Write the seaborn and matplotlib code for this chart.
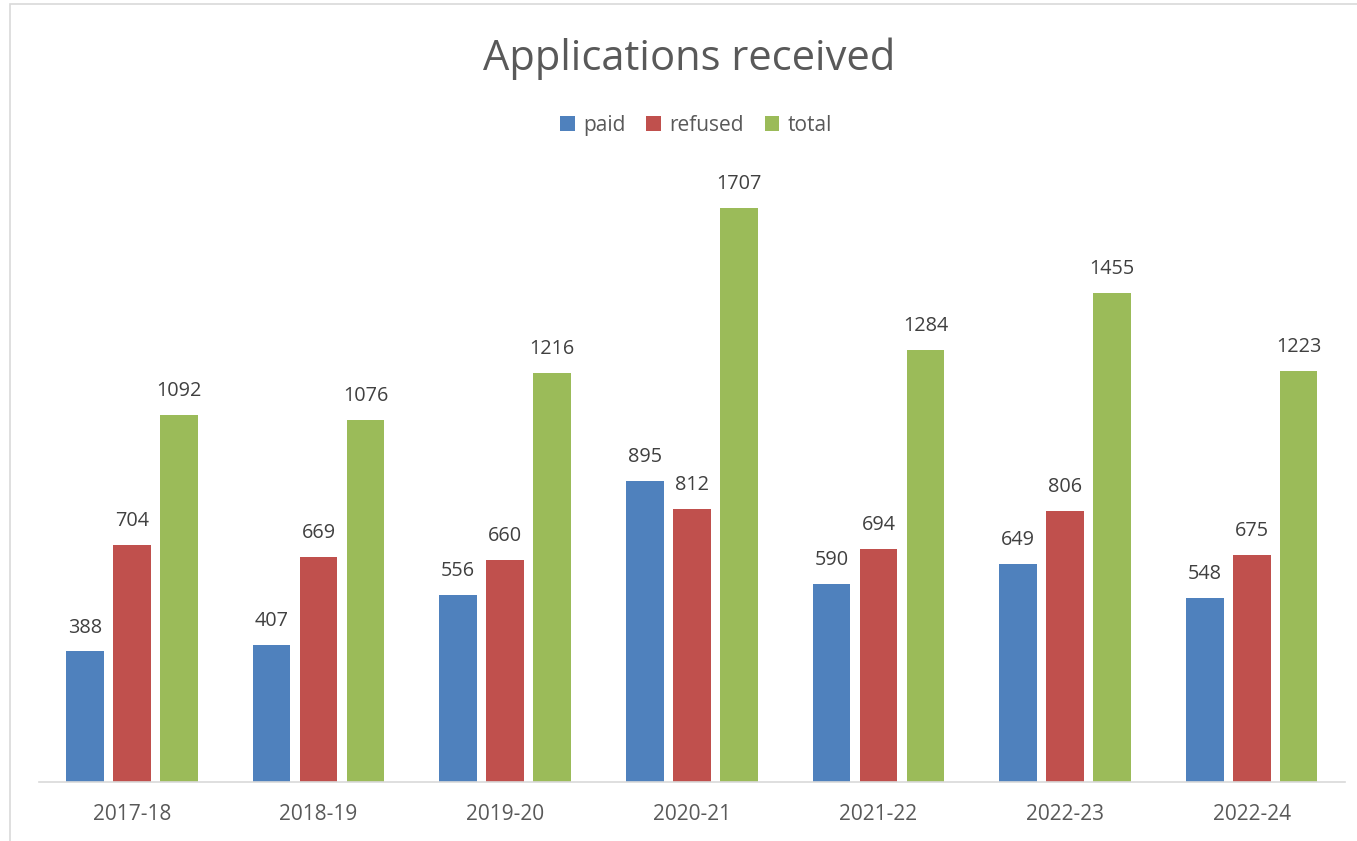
import matplotlib
matplotlib.use("Agg")
import matplotlib.pyplot as plt
import seaborn as sns
import pandas as pd
from matplotlib.patches import Rectangle

years = ["2017-18", "2018-19", "2019-20", "2020-21", "2021-22", "2022-23", "2022-24"]
paid = [388, 407, 556, 895, 590, 649, 548]
refused = [704, 669, 660, 812, 694, 806, 675]
total = [1092, 1076, 1216, 1707, 1284, 1455, 1223]
series = ["paid", "refused", "total"]
colors = ["#4f81bd", "#c0504d", "#9bbb59"]

df = pd.DataFrame({
    "year": years * 3,
    "series": ["paid"] * 7 + ["refused"] * 7 + ["total"] * 7,
    "value": paid + refused + total,
})

sns.set_theme(style="white")
plt.rcParams["font.family"] = ["Open Sans", "DejaVu Sans"]

fig = plt.figure(figsize=(13.57, 8.41), dpi=100)
ax = fig.add_axes([0.0285, 0.0702, 0.9627, 0.7198])
sns.barplot(data=df, x="year", y="value", hue="series", hue_order=series,
            palette=colors, width=0.755, gap=0.2, ax=ax, legend=True,
            errorbar=None, saturation=1, edgecolor="none", linewidth=0)

for cont in ax.containers:
    ax.bar_label(cont, padding=10, fontsize=14.3, color="#404040")

ax.set_ylim(0, 1800)
ax.set_xlim(-0.5, 6.5)
ax.set_xlabel("")
ax.set_ylabel("")
ax.set_yticks([])
for s in ["top", "right", "left"]:
    ax.spines[s].set_visible(False)
ax.spines["bottom"].set_color("#d9d9d9")
ax.spines["bottom"].set_linewidth(1.2)
ax.tick_params(axis="x", labelsize=15, labelcolor="#595959", length=0, pad=16)

fig.text(0.508, 0.930, "Applications received", ha="center", va="center",
         fontsize=30, color="#595959")

handles, labels = ax.get_legend_handles_labels()
ax.legend_.remove()
fig.legend(handles, labels, loc="center", bbox_to_anchor=(0.513, 0.851), ncol=3,
           frameon=False, fontsize=15, handlelength=0.7, handleheight=0.7,
           handletextpad=0.4, columnspacing=1.0, labelcolor="#595959")

# chart border
fig.patches.append(Rectangle((10 / 1357, -0.05), 1.2, 1 - 4 / 841 + 0.05,
                             transform=fig.transFigure, fill=False,
                             edgecolor="#d9d9d9", linewidth=1.2))

fig.savefig("out.png", dpi=100)
